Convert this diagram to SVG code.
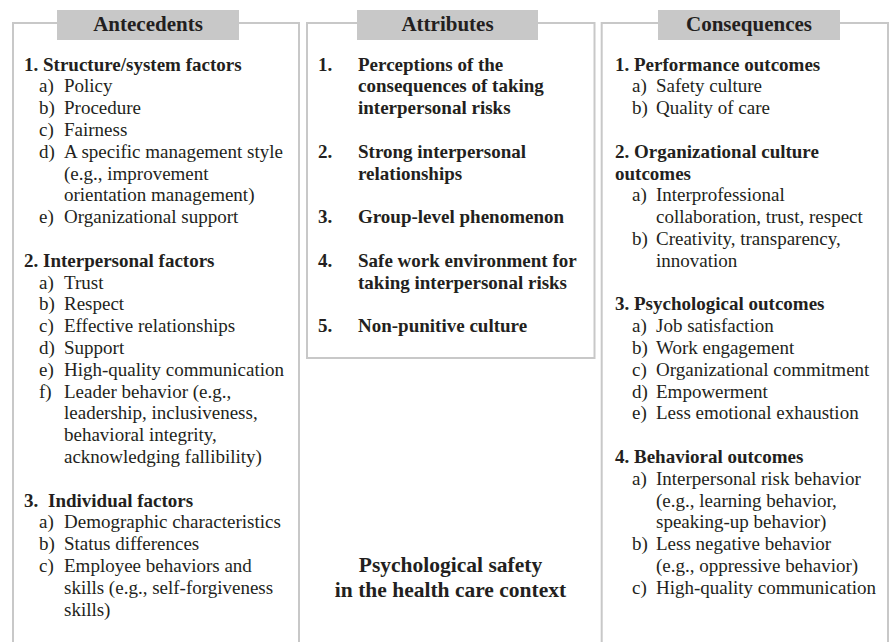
<svg xmlns="http://www.w3.org/2000/svg" width="889" height="642" viewBox="0 0 889 642">
<style>
.frame{fill:none;stroke:#c8c8c8;stroke-width:2}
.hdr{fill:#c8c8c8}
.ht{font-family:"Liberation Serif","Times New Roman",serif;font-size:21px;font-weight:bold;fill:#231f20;text-anchor:middle}
.t{font-family:"Liberation Serif","Times New Roman",serif;font-size:19px;fill:#231f20}
.b{font-weight:bold}
.c{font-family:"Liberation Serif","Times New Roman",serif;font-size:21.5px;font-weight:bold;fill:#231f20;text-anchor:middle}
</style>
<rect width="889" height="642" fill="#ffffff"/>
<g id="connectors"/>
<g id="antecedents">
<path class="frame" d="M13,650 V23 H299 V650"/>
<rect class="hdr" x="57" y="10" width="182" height="30"/>
<text class="ht" x="148" y="31">Antecedents</text>
<text class="t b" x="24" y="70.5">1. Structure/system factors</text>
<text class="t" y="92.3"><tspan x="39">a)</tspan><tspan x="64">Policy</tspan></text>
<text class="t" y="114.1"><tspan x="39">b)</tspan><tspan x="64">Procedure</tspan></text>
<text class="t" y="135.9"><tspan x="39">c)</tspan><tspan x="64">Fairness</tspan></text>
<text class="t" y="157.7"><tspan x="39">d)</tspan><tspan x="64">A specific management style</tspan></text>
<text class="t" x="64" y="179.5">(e.g., improvement</text>
<text class="t" x="64" y="201.3">orientation management)</text>
<text class="t" y="223.1"><tspan x="39">e)</tspan><tspan x="64">Organizational support</tspan></text>
<text class="t b" x="24" y="266.7">2. Interpersonal factors</text>
<text class="t" y="288.5"><tspan x="39">a)</tspan><tspan x="64">Trust</tspan></text>
<text class="t" y="310.3"><tspan x="39">b)</tspan><tspan x="64">Respect</tspan></text>
<text class="t" y="332.1"><tspan x="39">c)</tspan><tspan x="64">Effective relationships</tspan></text>
<text class="t" y="353.9"><tspan x="39">d)</tspan><tspan x="64">Support</tspan></text>
<text class="t" y="375.7"><tspan x="39">e)</tspan><tspan x="64">High-quality communication</tspan></text>
<text class="t" y="397.5"><tspan x="39">f)</tspan><tspan x="64">Leader behavior (e.g.,</tspan></text>
<text class="t" x="64" y="419.3">leadership, inclusiveness,</text>
<text class="t" x="64" y="441.1">behavioral integrity,</text>
<text class="t" x="64" y="462.9">acknowledging fallibility)</text>
<text class="t b" y="506.5"><tspan x="24">3.</tspan><tspan x="48">Individual factors</tspan></text>
<text class="t" y="528.3"><tspan x="39">a)</tspan><tspan x="64">Demographic characteristics</tspan></text>
<text class="t" y="550.1"><tspan x="39">b)</tspan><tspan x="64">Status differences</tspan></text>
<text class="t" y="571.9"><tspan x="39">c)</tspan><tspan x="64">Employee behaviors and</tspan></text>
<text class="t" x="64" y="593.7">skills (e.g., self-forgiveness</text>
<text class="t" x="64" y="615.5">skills)</text>
</g>
<g id="attributes">
<rect class="frame" x="307" y="23" width="287.5" height="335"/>
<rect class="hdr" x="357" y="10" width="181" height="30"/>
<text class="ht" x="447.5" y="31">Attributes</text>
<text class="t b" y="70.5"><tspan x="318">1.</tspan><tspan x="358">Perceptions of the</tspan></text>
<text class="t b" x="358" y="92.3">consequences of taking</text>
<text class="t b" x="358" y="114.1">interpersonal risks</text>
<text class="t b" y="157.7"><tspan x="318">2.</tspan><tspan x="358">Strong interpersonal</tspan></text>
<text class="t b" x="358" y="179.5">relationships</text>
<text class="t b" y="223.1"><tspan x="318">3.</tspan><tspan x="358">Group-level phenomenon</tspan></text>
<text class="t b" y="266.7"><tspan x="318">4.</tspan><tspan x="358">Safe work environment for</tspan></text>
<text class="t b" x="358" y="288.5">taking interpersonal risks</text>
<text class="t b" y="332.1"><tspan x="318">5.</tspan><tspan x="358">Non-punitive culture</tspan></text>
</g>
<g id="concept">
<text class="c" x="450.5" y="572">Psychological safety</text>
<text class="c" x="450.5" y="597">in the health care context</text>
</g>
<g id="consequences">
<path class="frame" d="M601.7,650 V23 H888 V650"/>
<rect class="hdr" x="658" y="10" width="182" height="30"/>
<text class="ht" x="749" y="31">Consequences</text>
<text class="t b" x="615" y="70.5">1. Performance outcomes</text>
<text class="t" y="92.3"><tspan x="632">a)</tspan><tspan x="656">Safety culture</tspan></text>
<text class="t" y="114.1"><tspan x="632">b)</tspan><tspan x="656">Quality of care</tspan></text>
<text class="t b" x="615" y="157.7">2. Organizational culture</text>
<text class="t b" x="615" y="179.5">outcomes</text>
<text class="t" y="201.3"><tspan x="632">a)</tspan><tspan x="656">Interprofessional</tspan></text>
<text class="t" x="656" y="223.1">collaboration, trust, respect</text>
<text class="t" y="244.9"><tspan x="632">b)</tspan><tspan x="656">Creativity, transparency,</tspan></text>
<text class="t" x="656" y="266.7">innovation</text>
<text class="t b" x="615" y="310.3">3. Psychological outcomes</text>
<text class="t" y="332.1"><tspan x="632">a)</tspan><tspan x="656">Job satisfaction</tspan></text>
<text class="t" y="353.9"><tspan x="632">b)</tspan><tspan x="656">Work engagement</tspan></text>
<text class="t" y="375.7"><tspan x="632">c)</tspan><tspan x="656">Organizational commitment</tspan></text>
<text class="t" y="397.5"><tspan x="632">d)</tspan><tspan x="656">Empowerment</tspan></text>
<text class="t" y="419.3"><tspan x="632">e)</tspan><tspan x="656">Less emotional exhaustion</tspan></text>
<text class="t b" x="615" y="462.9">4. Behavioral outcomes</text>
<text class="t" y="484.7"><tspan x="632">a)</tspan><tspan x="656">Interpersonal risk behavior</tspan></text>
<text class="t" x="656" y="506.5">(e.g., learning behavior,</text>
<text class="t" x="656" y="528.3">speaking-up behavior)</text>
<text class="t" y="550.1"><tspan x="632">b)</tspan><tspan x="656">Less negative behavior</tspan></text>
<text class="t" x="656" y="571.9">(e.g., oppressive behavior)</text>
<text class="t" y="593.7"><tspan x="632">c)</tspan><tspan x="656">High-quality communication</tspan></text>
</g>
</svg>
